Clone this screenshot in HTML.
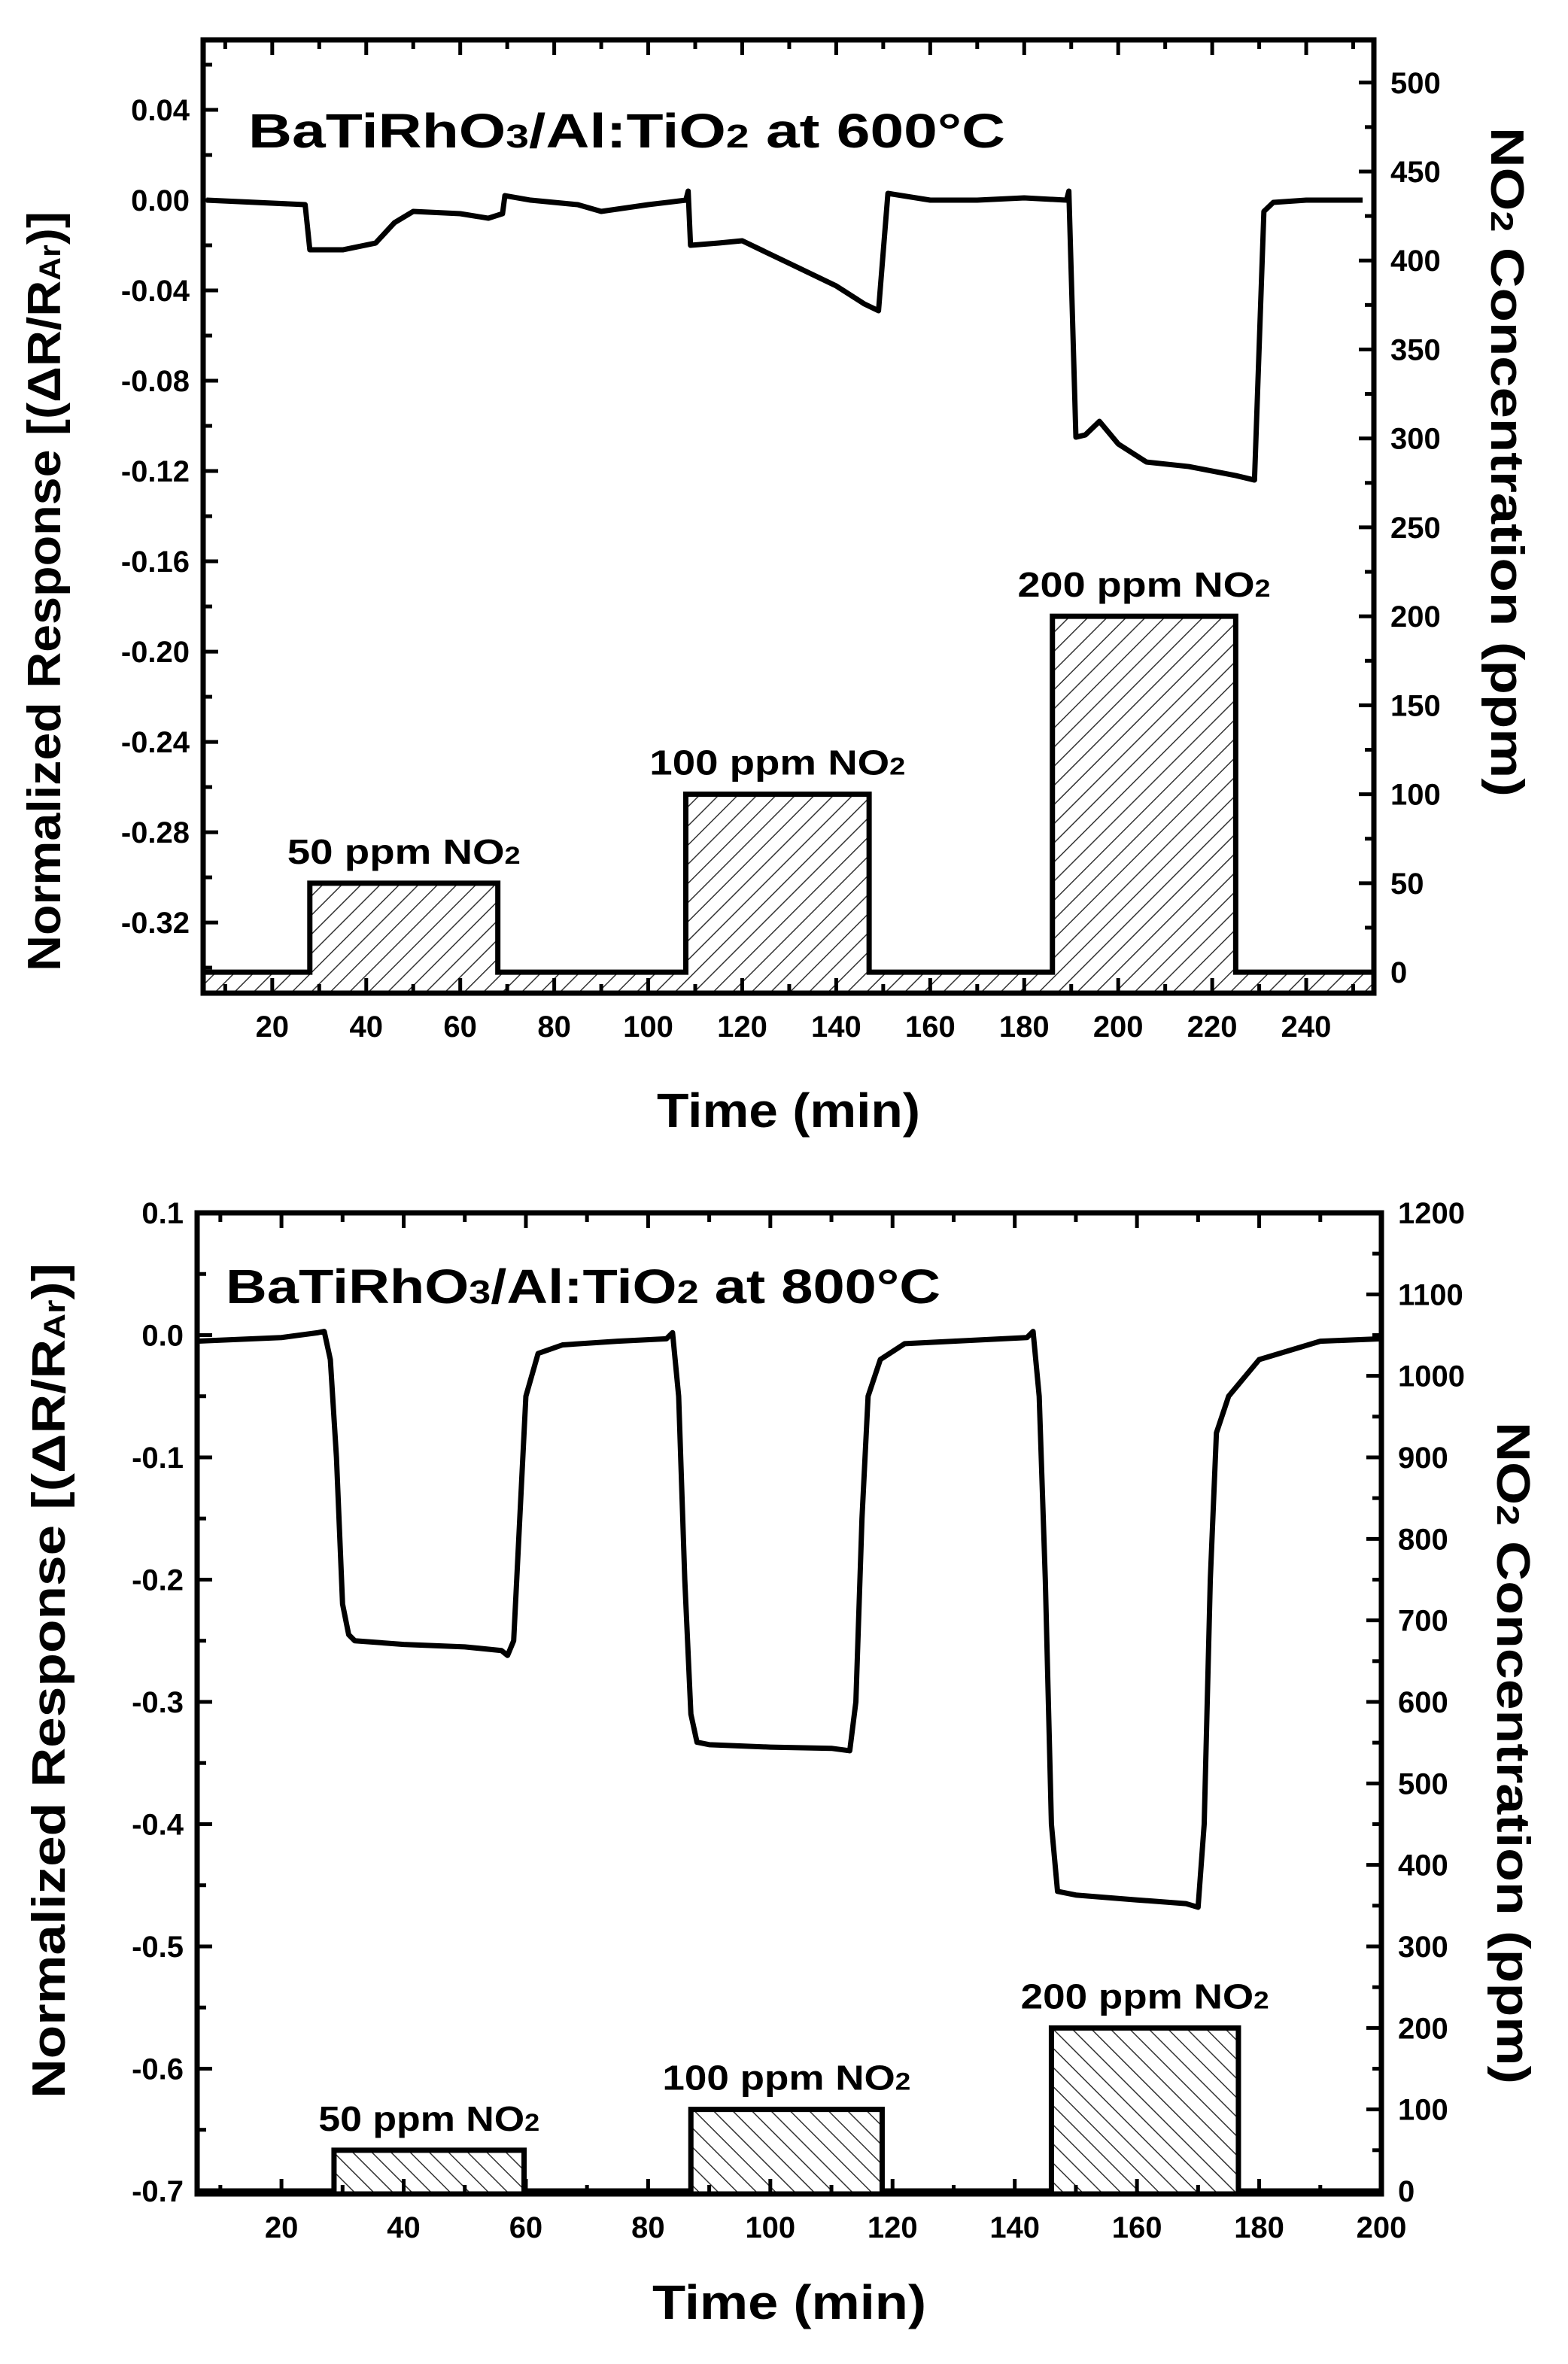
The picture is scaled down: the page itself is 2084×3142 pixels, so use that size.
<!DOCTYPE html>
<html><head><meta charset="utf-8"><style>
html,body{margin:0;padding:0;background:#fff}
svg{display:block;font-family:"Liberation Sans",Arial,sans-serif;font-weight:bold}
</style></head><body>
<svg id="svg" width="2084" height="3142" viewBox="0 0 2084 3142" xmlns="http://www.w3.org/2000/svg">
<defs>
<pattern id="hatchA" patternUnits="userSpaceOnUse" width="18" height="18" patternTransform="rotate(45)">
<line x1="0" y1="0" x2="0" y2="18" stroke="#333" stroke-width="3"/></pattern>
<pattern id="hatchB" patternUnits="userSpaceOnUse" width="18" height="18" patternTransform="rotate(-45)">
<line x1="0" y1="0" x2="0" y2="18" stroke="#333" stroke-width="3"/></pattern>
</defs>
</svg>
<script>
// ===== Chart 1 data (600°C) =====
const t1Time=[6,27,28,35,42,46,50,60,66,69,69.5,75,85,90,100,108,108.5,109,115,120,130,140,146,149,151,160,170,180,189,189.5,191,193,196,200,206,215,225,229,231,233,240,252];
const t1Resp=[0,-0.002,-0.022,-0.022,-0.019,-0.010,-0.005,-0.006,-0.008,-0.006,0.002,0,-0.002,-0.005,-0.002,0,0.004,-0.020,-0.019,-0.018,-0.028,-0.038,-0.046,-0.049,0.003,0,0,0.001,0,0.004,-0.105,-0.104,-0.098,-0.108,-0.116,-0.118,-0.122,-0.124,-0.005,-0.001,0,0];
const p1Start=[28,108,186];
const p1End=[68,147,225];
const p1Conc=[50,100,200];
const p1Labels=["50 ppm NO","100 ppm NO","200 ppm NO"];
const x1Ticks=[20,40,60,80,100,120,140,160,180,200,220,240];
const yL1Ticks=[0.04,0.00,-0.04,-0.08,-0.12,-0.16,-0.20,-0.24,-0.28,-0.32];
const yR1Ticks=[0,50,100,150,200,250,300,350,400,450,500];
// ===== Chart 2 data (800°C) =====
const t2Time=[6,20,26,27,28,29,30,31,32,40,50,56,57,58,59,60,62,66,75,83,84,85,86,87,88,90,100,110,113,114,115,116,118,122,130,142,143,144,145,146,147,150,160,168,170,171,172,173,175,180,190,200];
const t2Resp=[-0.005,-0.002,0.002,0.003,-0.02,-0.1,-0.22,-0.245,-0.25,-0.253,-0.255,-0.258,-0.262,-0.25,-0.15,-0.05,-0.015,-0.008,-0.005,-0.003,0.002,-0.05,-0.2,-0.31,-0.333,-0.335,-0.337,-0.338,-0.34,-0.3,-0.15,-0.05,-0.02,-0.007,-0.005,-0.002,0.003,-0.05,-0.2,-0.4,-0.455,-0.458,-0.462,-0.465,-0.468,-0.4,-0.2,-0.08,-0.05,-0.02,-0.005,-0.003];
const p2Start=[28.6,87,146];
const p2End=[59.7,118.3,176.6];
const p2Conc=[50,100,200];
const p2Labels=["50 ppm NO","100 ppm NO","200 ppm NO"];
const x2Ticks=[20,40,60,80,100,120,140,160,180,200];
const yL2Ticks=[0.1,0.0,-0.1,-0.2,-0.3,-0.4,-0.5,-0.6,-0.7];
const yR2Ticks=[0,100,200,300,400,500,600,700,800,900,1000,1100,1200];

const NS="http://www.w3.org/2000/svg";
const svg=document.getElementById('svg');
function mk(tag,attrs,parent){const e=document.createElementNS(NS,tag);for(const k in attrs)e.setAttribute(k,attrs[k]);(parent||svg).appendChild(e);return e;}

function chart(c){
  const g=mk('g',{});
  
  
  const X=v=>c.L+(v-c.xmin)/(c.xmax-c.xmin)*(c.R-c.L);
  const YL=v=>c.B-(v-c.ylmin)/(c.ylmax-c.ylmin)*(c.B-c.T);
  const YR=v=>c.B-(v-c.yrmin)/(c.yrmax-c.yrmin)*(c.B-c.T);
  let d=`M${c.L},${c.B} L${c.L},${YR(0)}`;
  for(let i=0;i<c.ps.length;i++){
    d+=` L${X(c.ps[i])},${YR(0)} L${X(c.ps[i])},${YR(c.pc[i])} L${X(c.pe[i])},${YR(c.pc[i])} L${X(c.pe[i])},${YR(0)}`;
  }
  d+=` L${c.R},${YR(0)} L${c.R},${c.B} Z`;
  const area=mk('path',{d:d,fill:`url(#${c.hatch})`,stroke:'none'},g);
  
  
  let d2=`M${c.L},${YR(0)}`;
  for(let i=0;i<c.ps.length;i++){
    d2+=` L${X(c.ps[i])},${YR(0)} L${X(c.ps[i])},${YR(c.pc[i])} L${X(c.pe[i])},${YR(c.pc[i])} L${X(c.pe[i])},${YR(0)}`;
  }
  d2+=` L${c.R},${YR(0)}`;
  const step=mk('path',{d:d2,fill:'none',stroke:'#000','stroke-width':7},g);
  
  
  for(let i=0;i<c.ps.length;i++){
    const t=mk('text',{x:(X(c.ps[i])+X(c.pe[i]))/2,y:YR(c.pc[i])-26,'text-anchor':'middle','font-size':46,textLength:c.plw[i],lengthAdjust:'spacingAndGlyphs'},g);
    
    
    t.textContent=c.pl[i];
    const s=mk('tspan',{'font-size':32},t);s.textContent='2';
  }
  const pts=c.tt.map((t,i)=>X(t)+','+YL(c.rr[i])).join(' ');
  const ln=mk('polyline',{points:pts,fill:'none',stroke:'#000','stroke-width':7,'stroke-linejoin':'round'},g);
  
  
  const fr=mk('rect',{x:c.L,y:c.T,width:c.R-c.L,height:c.B-c.T,fill:'none',stroke:'#000','stroke-width':7},g);
  
  
  const step2=c.xt[1]-c.xt[0];
  for(let v=c.xt[0]-step2;v<=c.xmax;v+=step2/2){
    if(v<c.xmin||v>c.xmax)continue;
    const major=c.xt.some(t=>Math.abs(t-v)<1e-6);
    const len=major?20:12;
    mk('line',{x1:X(v),x2:X(v),y1:c.B,y2:c.B-len,stroke:'#000','stroke-width':5},g);
    mk('line',{x1:X(v),x2:X(v),y1:c.T,y2:c.T+len,stroke:'#000','stroke-width':5},g);
  }
  c.xt.forEach(v=>{const t=mk('text',{x:X(v),y:c.B+58,'text-anchor':'middle','font-size':40},g);
    t.textContent=v;});
  const sl=c.ylt[0]-c.ylt[1];
  for(let k=-2;k<=2*c.ylt.length+2;k++){
    const v=c.ylt[0]+sl-k*sl/2;
    if(v<c.ylmin-1e-9||v>c.ylmax+1e-9)continue;
    const major=k%2===0;
    mk('line',{x1:c.L,x2:c.L+(major?20:12),y1:YL(v),y2:YL(v),stroke:'#000','stroke-width':5},g);
  }
  c.ylt.forEach(v=>{const t=mk('text',{x:c.L-18,y:YL(v)+14,'text-anchor':'end','font-size':40},g);
    t.textContent=v.toFixed(c.ydp);});
  const sr=c.yrt[1]-c.yrt[0];
  for(let v=c.yrt[0]-sr;v<=c.yrmax;v+=sr/2){
    if(v<c.yrmin)continue;
    const major=c.yrt.some(t=>Math.abs(t-v)<1e-6);
    mk('line',{x1:c.R,x2:c.R-(major?20:12),y1:YR(v),y2:YR(v),stroke:'#000','stroke-width':5},g);
  }
  c.yrt.forEach(v=>{const t=mk('text',{x:c.R+22,y:YR(v)+14,'text-anchor':'start','font-size':40},g);
    t.textContent=v;});
  const ti=mk('text',{x:c.tx,y:c.ty,'font-size':64,textLength:c.tw,lengthAdjust:'spacingAndGlyphs'},g);
  
  ti.innerHTML='BaTiRhO<tspan font-size="44">3</tspan>/Al:TiO<tspan font-size="44">2</tspan> at '+c.temp;
  const xt=mk('text',{x:(c.L+c.R)/2,y:c.xty,'text-anchor':'middle','font-size':64,textLength:c.xtw,lengthAdjust:'spacingAndGlyphs'},g);
  xt.textContent='Time (min)';
  const lt=mk('text',{x:0,y:0,'text-anchor':'middle','font-size':62,textLength:c.ltw,lengthAdjust:'spacingAndGlyphs',transform:`translate(${c.ltx},${c.lty}) rotate(-90)`},g);
  
  lt.innerHTML='Normalized Response [(ΔR/R<tspan font-size="40">Ar</tspan>)]';
  const rt=mk('text',{x:0,y:0,'text-anchor':'middle','font-size':62,textLength:c.rtw,lengthAdjust:'spacingAndGlyphs',transform:`translate(${c.rtx},${c.rty}) rotate(90)`},g);
  
  rt.innerHTML='NO<tspan font-size="42">2</tspan> Concentration (ppm)';
}

chart({name:'chart-600c',L:270,R:1826,T:53,B:1320,xmin:5.3,xmax:254.4,ylmin:-0.3513,ylmax:0.071,yrmin:-11.8,yrmax:524,
  tt:t1Time,rr:t1Resp,ps:p1Start,pe:p1End,pc:p1Conc,pl:p1Labels,plw:[310,340,336],xt:x1Ticks,ylt:yL1Ticks,yrt:yR1Ticks,ydp:2,hatch:'hatchA',
  tx:330,ty:196,tw:1006,temp:'600°C',xty:1498,xtw:350,ltx:80,lty:786,ltw:1010,rtx:1982,rty:614,rtw:890});
chart({name:'chart-800c',L:262,R:1836,T:1612,B:2916,xmin:6.2,xmax:200,ylmin:-0.7025,ylmax:0.1,yrmin:-3.7,yrmax:1200,
  tt:t2Time,rr:t2Resp,ps:p2Start,pe:p2End,pc:p2Conc,pl:p2Labels,plw:[294,330,330],xt:x2Ticks,ylt:yL2Ticks,yrt:yR2Ticks,ydp:1,hatch:'hatchB',
  tx:300,ty:1732,tw:950,temp:'800°C',xty:3082,xtw:364,ltx:86,lty:2234,ltw:1110,rtx:1990,rty:2330,rtw:880});
</script>
</body></html>
